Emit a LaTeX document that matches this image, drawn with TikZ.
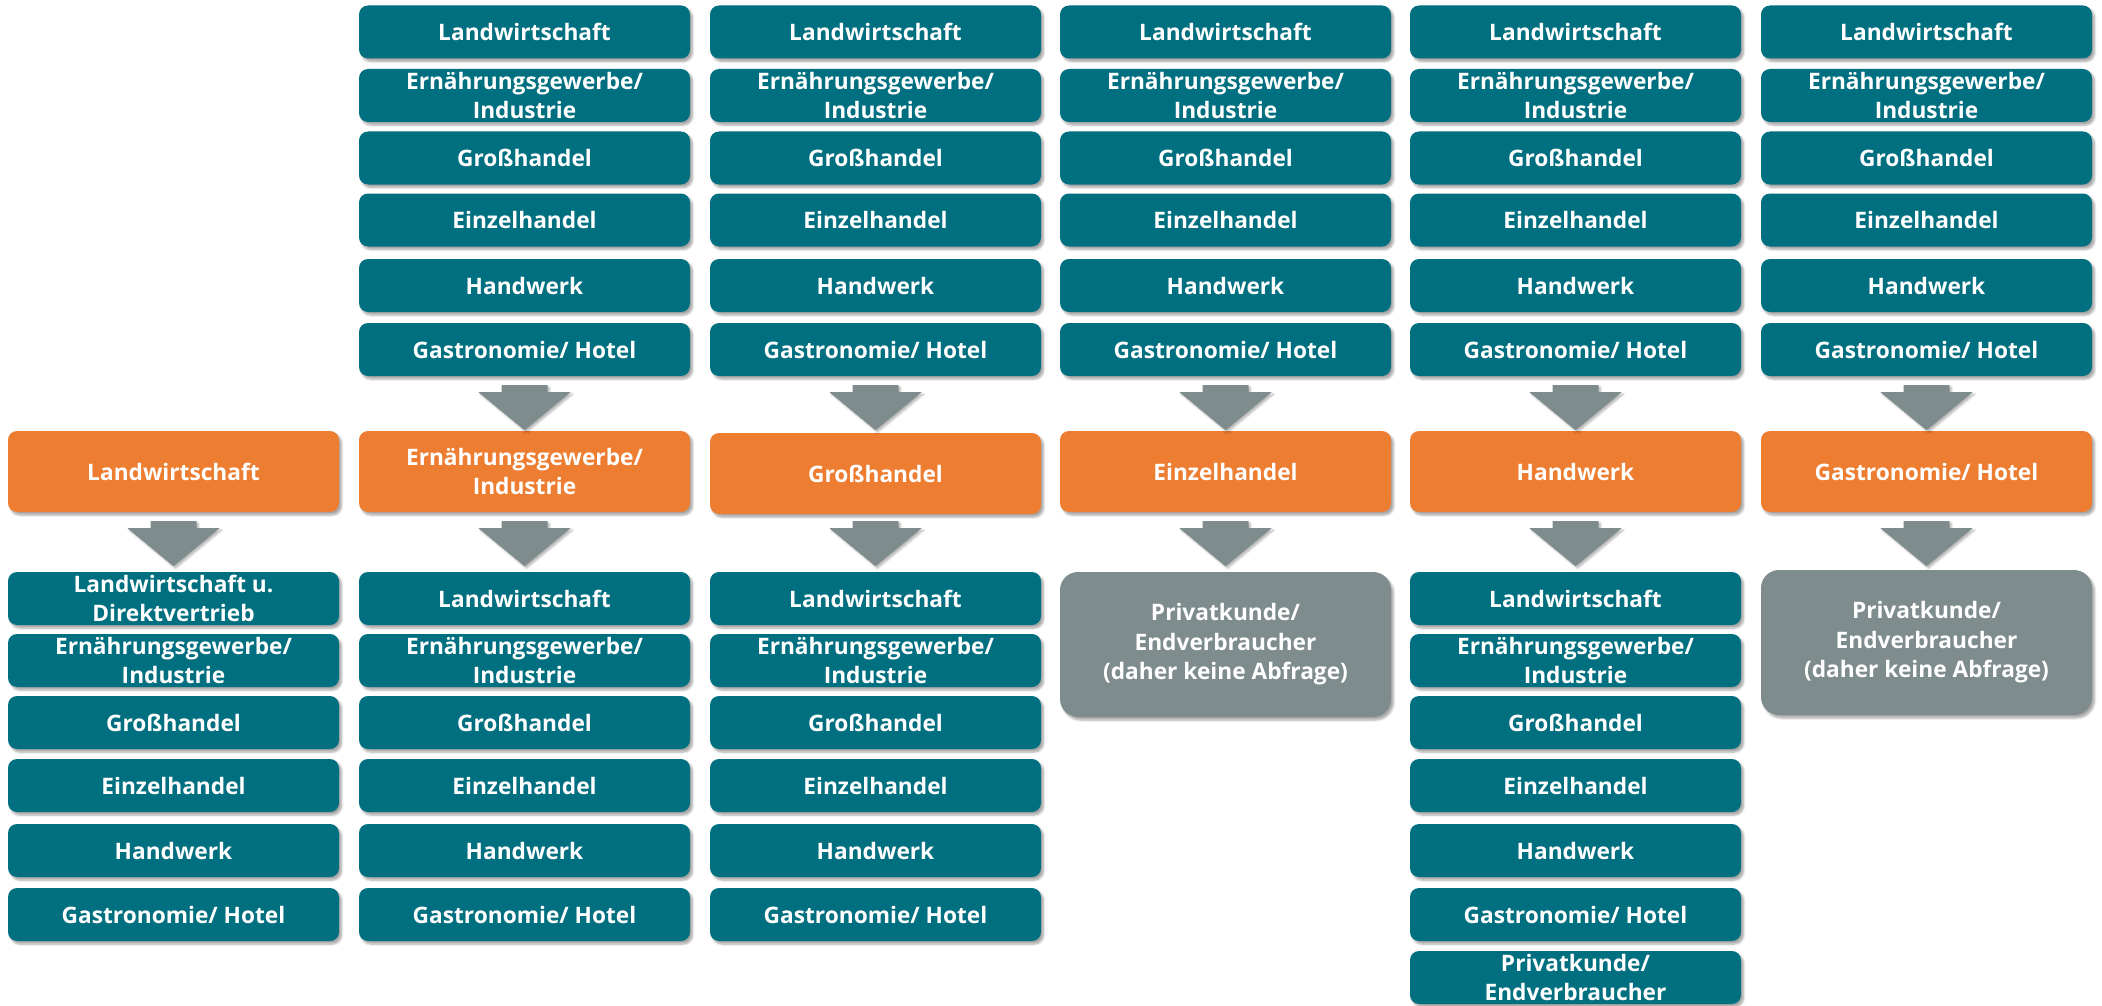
\documentclass[tikz,border=0pt]{standalone}
\usepackage{fontspec}
\setmainfont{Open Sans}
\usetikzlibrary{shadows.blur,calc}
\definecolor{boxteal}{HTML}{006F80}
\definecolor{boxorange}{HTML}{ED7D31}
\definecolor{boxgray}{HTML}{7F8C8D}
\newcommand\downarr[1]{\fill[boxgray, arrshadow] #1 ++(-23,0) -- ++(46,0) -- ++(0,7) -- ++(23,0) -- ++(-46,38) -- ++(-46,-38) -- ++(23,0) -- cycle;}
\tikzset{
  arrshadow/.style={blur shadow={shadow xshift=2pt, shadow yshift=-2pt, shadow opacity=30, shadow blur steps=5}},
  base/.style={rounded corners=9pt, minimum width=331pt, text=white,
    font=\bfseries\fontsize{22.7}{29.5}\selectfont, align=center, inner sep=0pt,
    blur shadow={shadow xshift=2.5pt, shadow yshift=-3pt, shadow opacity=35, shadow blur steps=6}},
  tbox/.style={base, fill=boxteal, minimum height=53pt},
  obox/.style={base, fill=boxorange, minimum height=81pt},
  gbox/.style={base, fill=boxgray, minimum height=145pt, rounded corners=18pt},
}
\begin{document}
\begin{tikzpicture}[x=1pt,y=-1pt]
\useasboundingbox (0,0) rectangle (2102,1006);
% top blocks, columns 2-6
\foreach \c/\x in {2/524.5,3/875.5,4/1225.5,5/1575.5,6/1926.5}{
  \node[tbox] (t\c a) at (\x,32) {Landwirtschaft};
  \node[tbox] (t\c b) at (\x,95.5) {Ernährungsgewerbe/\\Industrie};
  \node[tbox] (t\c c) at (\x,158) {Großhandel};
  \node[tbox] (t\c d) at (\x,220) {Einzelhandel};
  \node[tbox] (t\c e) at (\x,285.5) {Handwerk};
  \node[tbox] (t\c f) at (\x,349.5) {Gastronomie/ Hotel};
}
% orange row
\node[obox] (o1) at (173.5,471.5) {Landwirtschaft};
\node[obox] (o2) at (524.5,471.5) {Ernährungsgewerbe/\\Industrie};
\node[obox] (o3) at (875.5,473.5) {Großhandel};
\node[obox] (o4) at (1225.5,471.5) {Einzelhandel};
\node[obox] (o5) at (1575.5,471.5) {Handwerk};
\node[obox] (o6) at (1926.5,471.5) {Gastronomie/ Hotel};
% arrows top -> orange
\foreach \c in {2,...,6}{ \downarr{($(t\c f.south)+(0,9)$)} }
% arrows orange -> bottom
\foreach \c in {1,2,4,5,6}{ \downarr{($(o\c.south)+(0,9)$)} }
\downarr{($(o3.south)+(0,7)$)}
% bottom column 1
\node[tbox] (b1a) at (173.5,598.5) {Landwirtschaft u.\\Direktvertrieb};
\node[tbox] (b1b) at (173.5,660.5) {Ernährungsgewerbe/\\Industrie};
\node[tbox] (b1c) at (173.5,722.5) {Großhandel};
\node[tbox] (b1d) at (173.5,785.5) {Einzelhandel};
\node[tbox] (b1e) at (173.5,850.5) {Handwerk};
\node[tbox] (b1f) at (173.5,914.5) {Gastronomie/ Hotel};
% bottom columns 2,3,5
\foreach \c/\x in {2/524.5,3/875.5,5/1575.5}{
  \node[tbox] (b\c a) at (\x,598.5) {Landwirtschaft};
  \node[tbox] (b\c b) at (\x,660.5) {Ernährungsgewerbe/\\Industrie};
  \node[tbox] (b\c c) at (\x,722.5) {Großhandel};
  \node[tbox] (b\c d) at (\x,785.5) {Einzelhandel};
  \node[tbox] (b\c e) at (\x,850.5) {Handwerk};
  \node[tbox] (b\c f) at (\x,914.5) {Gastronomie/ Hotel};
}
\node[tbox] (b5g) at (1575.5,977.5) {Privatkunde/\\Endverbraucher};
% gray boxes
\node[gbox] (g4) at (1225.5,644.5) {Privatkunde/\\Endverbraucher\\(daher keine Abfrage)};
\node[gbox] (g6) at (1926.5,642.5) {Privatkunde/\\Endverbraucher\\(daher keine Abfrage)};
\end{tikzpicture}
\end{document}
